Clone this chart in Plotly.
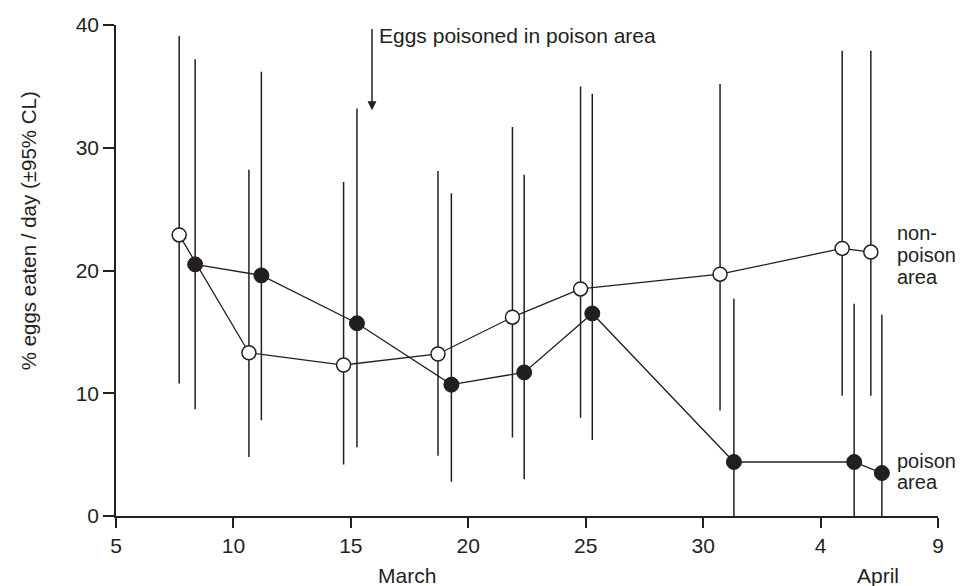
import plotly.graph_objects as go

# Day number: March days as-is, April days = 31 + day
tick_vals = [5, 10, 15, 20, 25, 30, 35, 40]
tick_text = ["5", "10", "15", "20", "25", "30", "4", "9"]

# non-poison area (open circles)
np_day = [7.69, 10.66, 14.69, 18.71, 21.88, 24.78, 30.72, 35.92, 37.14]
np_val = [22.9, 13.3, 12.3, 13.2, 16.2, 18.5, 19.7, 21.8, 21.5]
np_hi = [39.1, 28.2, 27.2, 28.1, 31.7, 35.0, 35.2, 37.9, 37.9]
np_lo = [10.8, 4.8, 4.2, 4.9, 6.4, 8.0, 8.6, 9.8, 9.8]

# poison area (filled circles)
p_day = [8.37, 11.19, 15.26, 19.28, 22.38, 25.28, 31.31, 36.43, 37.61]
p_val = [20.5, 19.6, 15.7, 10.7, 11.7, 16.5, 4.4, 4.4, 3.5]
p_hi = [37.2, 36.2, 33.2, 26.3, 27.8, 34.4, 17.7, 17.3, 16.4]
p_lo = [8.7, 7.8, 5.6, 2.8, 3.0, 6.2, 0.0, 0.0, 0.0]

INK = "#231f20"
FONT = "Liberation Sans, Arial, sans-serif"

fig = go.Figure()

fig.add_trace(go.Scatter(
    x=p_day, y=p_val, mode="lines+markers",
    line=dict(color=INK, width=1.3),
    marker=dict(size=15, color=INK, line=dict(color=INK, width=1)),
    error_y=dict(type="data", symmetric=False,
                 array=[h - v for h, v in zip(p_hi, p_val)],
                 arrayminus=[v - l for v, l in zip(p_val, p_lo)],
                 width=0, thickness=1.5, color=INK),
    showlegend=False, cliponaxis=False,
))

fig.add_trace(go.Scatter(
    x=np_day, y=np_val, mode="lines+markers",
    line=dict(color=INK, width=1.3),
    marker=dict(size=14, color="white", line=dict(color=INK, width=1.5)),
    error_y=dict(type="data", symmetric=False,
                 array=[h - v for h, v in zip(np_hi, np_val)],
                 arrayminus=[v - l for v, l in zip(np_val, np_lo)],
                 width=0, thickness=1.5, color=INK),
    showlegend=False, cliponaxis=False,
))


def label(x, y, text, size=20, xref="x", yref="y", xanchor="left", angle=0):
    return dict(x=x, y=y, xref=xref, yref=yref, text=text, showarrow=False,
                xanchor=xanchor, yanchor="middle", textangle=angle,
                font=dict(size=size, color=INK, family=FONT))


annotations = [
    dict(x=15.9, y=33.05, ax=15.9, ay=39.8, xref="x", yref="y", axref="x", ayref="y",
         text="", showarrow=True, arrowhead=2, arrowsize=1.2, arrowwidth=1.5,
         arrowcolor=INK, standoff=0),
    label(16.1, 39.15, "Eggs poisoned in poison area", size=21),
    label(38.15, 23.05, "non-"),
    label(38.15, 21.3, "poison"),
    label(38.15, 19.5, "area"),
    label(38.15, 4.5, "poison"),
    label(38.15, 2.75, "area"),
    label(17.4, -0.121, "March", size=21, yref="paper", xanchor="center"),
    label(37.45, -0.121, "April", size=21, yref="paper", xanchor="center"),
    label(-0.107, 23.2, "% eggs eaten / day (\u00b195% CL)", size=20.5,
          xref="paper", xanchor="center", angle=-90),
]

fig.update_layout(
    width=971, height=586,
    margin=dict(l=116, r=33, t=24.5, b=69.5),
    paper_bgcolor="white", plot_bgcolor="white",
    font=dict(family=FONT, color=INK, size=20),
    annotations=annotations,
    xaxis=dict(range=[5, 40], tickvals=tick_vals, ticktext=tick_text,
               showline=True, linecolor=INK, linewidth=1.5,
               ticks="outside", ticklen=10, tickwidth=1.5, tickcolor=INK,
               showgrid=False, zeroline=False,
               tickfont=dict(size=21, color=INK, family=FONT)),
    yaxis=dict(range=[0, 40], tickvals=[0, 10, 20, 30, 40],
               showline=True, linecolor=INK, linewidth=1.5,
               ticks="outside", ticklen=11, tickwidth=1.5, tickcolor=INK,
               showgrid=False, zeroline=False,
               tickfont=dict(size=21, color=INK, family=FONT)),
)

fig.write_html("out.html")
